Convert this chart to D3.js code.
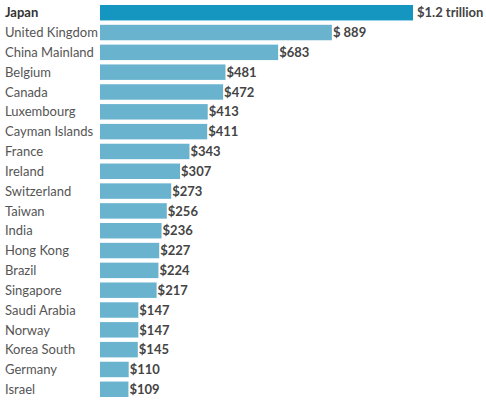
<!DOCTYPE html><html><head><script src="https://d3js.org/d3.v7.min.js"></script>
<style>body{margin:0;background:#fff}</style></head><body><svg id="c" width="486" height="402"></svg>
<script>
const countries=["Japan","United Kingdom","China Mainland","Belgium","Canada","Luxembourg","Cayman Islands","France","Ireland","Switzerland","Taiwan","India","Hong Kong","Brazil","Singapore","Saudi Arabia","Norway","Korea South","Germany","Israel"];
const values=[1200,889,683,481,472,413,411,343,307,273,256,236,227,224,217,147,147,145,110,109];
const valueLabels=["$1.2 trillion","$ 889","$683","$481","$472","$413","$411","$343","$307","$273","$256","$236","$227","$224","$217","$147","$147","$145","$110","$109"];
const svg=d3.select("#c");
const x=d3.scaleLinear().domain([0,1200]).range([100,413]);
const y=d3.scaleBand().domain(countries).range([3,399]).paddingInner(0.22).paddingOuter(0.1);
const g=svg.selectAll("g.r").data(countries).enter().append("g");
g.append("rect").attr("x",x(0)).attr("y",d=>y(d)).attr("height",y.bandwidth())
 .attr("width",(d,i)=>x(values[i])-x(0)).attr("fill",(d,i)=>i==0?"#1496c0":"#6ab3cf");
g.append("text").attr("x",5).attr("y",d=>y(d)+y.bandwidth()/2).attr("dy","0.36em")
 .text(d=>d).attr("font-family","Lato").attr("font-size",13).attr("fill",(d,i)=>i==0?"#333":"#555")
 .attr("font-weight",(d,i)=>i==0?"bold":"normal");
g.append("text").attr("x",(d,i)=>x(values[i])+(i==0?4:1)).attr("y",d=>y(d)+y.bandwidth()/2).attr("dy","0.36em")
 .text((d,i)=>valueLabels[i]).attr("font-family","Lato").attr("font-size",13).attr("font-weight","bold").attr("fill","#444");
</script></body></html>
